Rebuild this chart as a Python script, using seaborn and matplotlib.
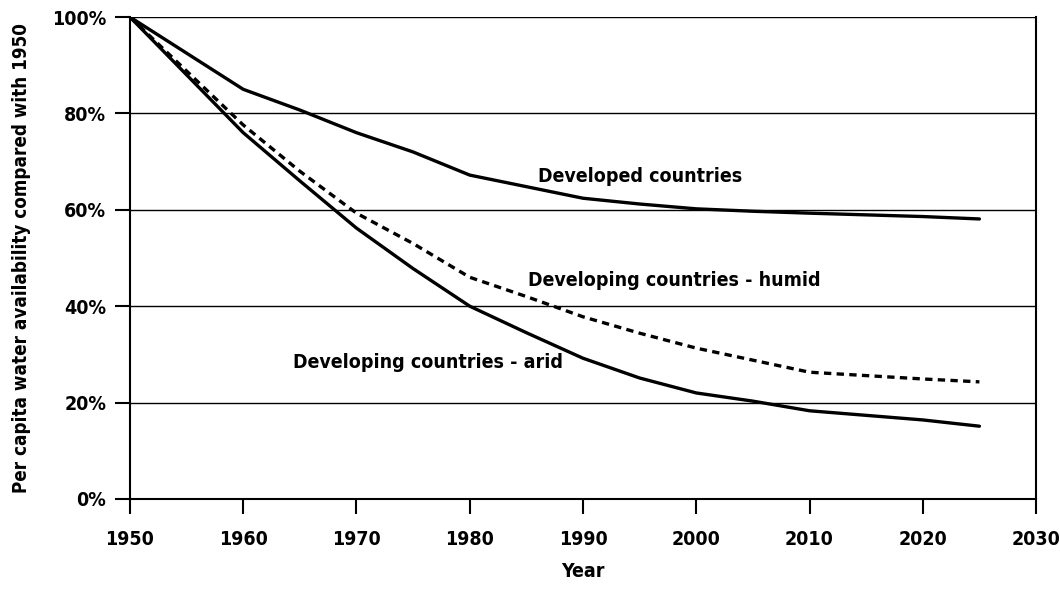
import numpy as np
import pandas as pd
import seaborn as sns
import matplotlib.pyplot as plt
from matplotlib import font_manager
from matplotlib.ticker import PercentFormatter

# values (% of 1950 availability)
years = [1950, 1960, 1965, 1970, 1975, 1980, 1985, 1990, 1995, 2000, 2005, 2010, 2020, 2025]
developed = [100, 85, 80.7, 76, 72, 67.2, 64.8, 62.4, 61.2, 60.2, 59.7, 59.3, 58.6, 58.1]
humid = [100, 77.6, 68, 59.3, 53, 46, 42, 37.8, 34.4, 31.3, 28.8, 26.3, 24.9, 24.3]
arid = [100, 76, 66, 56.2, 47.8, 40, 34.5, 29.2, 25.1, 22, 20.3, 18.3, 16.4, 15.1]

series_names = ["Developed countries", "Developing countries - humid", "Developing countries - arid"]
y_ticks = [0, 20, 40, 60, 80, 100]
x_ticks = [1950, 1960, 1970, 1980, 1990, 2000, 2010, 2020, 2030]

df = pd.concat([
    pd.DataFrame({"year": years, "value": developed, "series": series_names[0]}),
    pd.DataFrame({"year": years, "value": humid, "series": series_names[1]}),
    pd.DataFrame({"year": years, "value": arid, "series": series_names[2]}),
])

sns.set_style("white")
# narrow bold font if one is around, otherwise DejaVu a bit smaller
fonts = [(f.name, f.stretch) for f in font_manager.fontManager.ttflist]
has_narrow = any(n == "Liberation Sans Narrow" for n, s in fonts)
has_cond = any(n == "DejaVu Sans" and s == "condensed" for n, s in fonts)
fs = 15
if has_narrow:
    plt.rcParams['font.family'] = ['Liberation Sans Narrow', 'DejaVu Sans']
elif has_cond:
    plt.rcParams['font.family'] = ['DejaVu Sans']
    plt.rcParams['font.stretch'] = 'condensed'
    fs = 14
else:
    plt.rcParams['font.family'] = ['DejaVu Sans']
    fs = 12.5
plt.rcParams['font.weight'] = 'bold'
plt.rcParams['text.color'] = 'black'

fig = plt.figure(figsize=(10.6, 5.97), dpi=100)
ax = fig.add_axes([0.1226, 0.1642, 0.8548, 0.8073])

sns.lineplot(data=df, x="year", y="value", hue="series", style="series",
             palette={n: "black" for n in series_names},
             dashes={series_names[0]: "", series_names[1]: (2.2, 1.6), series_names[2]: ""},
             linewidth=2.4, legend=False, ax=ax)

ax.set_xlim(1950, 2030)
ax.set_ylim(0, 100)
ax.set_xticks(x_ticks)
ax.set_yticks(y_ticks)
ax.yaxis.set_major_formatter(PercentFormatter(decimals=0))
for y in y_ticks[1:]:
    ax.axhline(y, color="black", lw=1.0, zorder=0)

for side in ["left", "bottom", "right"]:
    ax.spines[side].set_color("black")
    ax.spines[side].set_linewidth(1.5)
ax.spines["top"].set_visible(False)
ax.tick_params(axis="both", bottom=True, left=True, direction="out", length=11, width=1.5,
               color="black", labelcolor="black", labelsize=fs)
ax.tick_params(axis="x", pad=11)
ax.tick_params(axis="y", pad=6)
for lbl in ax.get_xticklabels() + ax.get_yticklabels():
    lbl.set_fontweight("bold")

ax.set_xlabel("Year", fontsize=fs, fontweight="bold", labelpad=10, color="black")
ax.set_ylabel("Per capita water availability compared with 1950", fontsize=fs - 0.5,
              fontweight="bold", labelpad=15, color="black")

ax.text(1986, 67, series_names[0], fontsize=fs, fontweight="bold", va="center", ha="left")
ax.text(1985.1, 45.4, series_names[1], fontsize=fs, fontweight="bold", va="center", ha="left")
ax.text(1964.4, 28.4, series_names[2], fontsize=fs, fontweight="bold", va="center", ha="left")

fig.savefig("out.png", dpi=100)
